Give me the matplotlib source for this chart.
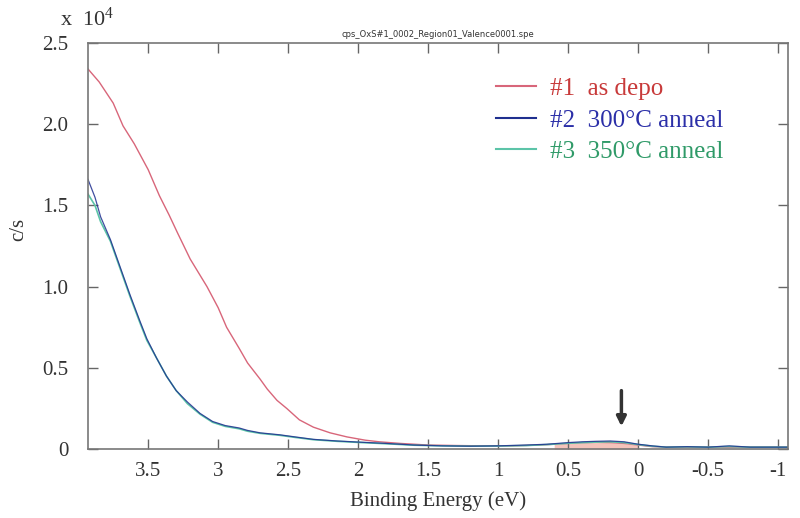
import matplotlib.pyplot as plt
from matplotlib.lines import Line2D

# binding energy (eV) / intensity (x10^4 c/s)
e_red = [3.93, 3.85, 3.75, 3.68, 3.60, 3.50, 3.42, 3.35, 3.29, 3.20, 3.08, 3.00, 2.94,
         2.85, 2.79, 2.70, 2.65, 2.58, 2.51, 2.42, 2.32, 2.20, 2.08, 1.95, 1.85, 1.70,
         1.50, 1.30, 1.10, 0.90, 0.70, 0.60, 0.50, 0.40, 0.30, 0.20, 0.10, 0.00, -0.10,
         -0.25, -0.45, -0.65, -0.85, -1.07]
i_red = [2.34, 2.26, 2.13, 1.99, 1.88, 1.72, 1.56, 1.44, 1.33, 1.17, 1.00, 0.87, 0.75,
         0.62, 0.53, 0.43, 0.37, 0.30, 0.25, 0.18, 0.135, 0.10, 0.075, 0.055, 0.045, 0.035,
         0.025, 0.022, 0.02, 0.02, 0.025, 0.03, 0.035, 0.04, 0.042, 0.04, 0.035, 0.025, 0.015,
         0.012, 0.012, 0.012, 0.012, 0.012]

e_blue = [3.93, 3.88, 3.84, 3.77, 3.70, 3.63, 3.56, 3.51, 3.44, 3.37, 3.30, 3.22, 3.13,
          3.04, 2.95, 2.85, 2.79, 2.70, 2.56, 2.45, 2.32, 2.15, 1.97, 1.80, 1.60, 1.40,
          1.20, 1.00, 0.80, 0.65, 0.50, 0.40, 0.30, 0.20, 0.10, 0.00, -0.10, -0.20, -0.35,
          -0.50, -0.65, -0.80, -1.07]
i_blue = [1.66, 1.55, 1.43, 1.29, 1.12, 0.95, 0.79, 0.68, 0.56, 0.45, 0.36, 0.29, 0.22,
          0.17, 0.145, 0.13, 0.115, 0.10, 0.088, 0.075, 0.06, 0.05, 0.042, 0.035, 0.025, 0.02,
          0.018, 0.02, 0.025, 0.03, 0.04, 0.045, 0.048, 0.05, 0.045, 0.03, 0.02, 0.012, 0.015,
          0.012, 0.02, 0.012, 0.012]

e_green = [3.93, 3.88, 3.84, 3.77, 3.70, 3.63, 3.56, 3.51, 3.44, 3.37, 3.30, 3.22, 3.13,
           3.04, 2.95, 2.85, 2.79, 2.70, 2.56, 2.45, 2.32, 2.15, 1.97, 1.80, 1.60, 1.40,
           1.20, 1.00, 0.80, 0.65, 0.50, 0.40, 0.30, 0.20, 0.10, 0.00, -0.10, -0.20, -0.35,
           -0.50, -0.65, -0.80, -1.07]
i_green = [1.57, 1.50, 1.40, 1.28, 1.11, 0.94, 0.78, 0.67, 0.56, 0.45, 0.36, 0.28, 0.215,
           0.165, 0.14, 0.125, 0.11, 0.097, 0.085, 0.072, 0.058, 0.048, 0.04, 0.033, 0.024, 0.02,
           0.018, 0.019, 0.022, 0.028, 0.036, 0.04, 0.043, 0.045, 0.04, 0.028, 0.018, 0.012, 0.014,
           0.012, 0.016, 0.012, 0.012]

labels = ["#1  as depo", "#2  300\u00b0C anneal", "#3  350\u00b0C anneal"]
line_colors = ["#d8667a", "#1f2f8f", "#5cc4a8"]
text_colors = ["#c83a3a", "#2b2fa8", "#2f9a68"]

xticks = [3.5, 3, 2.5, 2, 1.5, 1, 0.5, 0, -0.5, -1]
xticklabels = ["3.5", "3", "2.5", "2", "1.5", "1", "0.5", "0", "-0.5", "-1"]
yticks = [0, 0.5, 1.0, 1.5, 2.0, 2.5]
yticklabels = ["0", "0.5", "1.0", "1.5", "2.0", "2.5"]

plt.rcParams['font.family'] = ['Liberation Serif', 'DejaVu Serif']

fig = plt.figure(figsize=(8, 5.18), dpi=100)
ax = fig.add_axes([0.11, 0.133, 0.875, 0.784])

ax.plot(e_red, i_red, color=line_colors[0], lw=1.0)
ax.plot(e_green, i_green, color=line_colors[2], lw=1.2)
ax.plot(e_blue, i_blue, color=line_colors[1], lw=0.9, alpha=0.85)

# pale shading under the small bump near the Fermi level
bump = [(e, i) for e, i in zip(e_red, i_red) if -0.02 <= e <= 0.65]
ax.fill_between([b[0] for b in bump], 0, [b[1] for b in bump], color="#f2b5aa", alpha=0.8, lw=0)

ax.set_xlim(3.93, -1.07)
ax.set_ylim(0, 2.5)
ax.set_xticks(xticks)
ax.set_xticklabels(xticklabels)
ax.set_yticks(yticks)
ax.set_yticklabels(yticklabels)
ax.tick_params(direction='in', length=7, width=1, color="#666666", top=True, right=True,
               labelsize=15, labelcolor="#333333")
ax.tick_params(axis='y', pad=14)
ax.tick_params(axis='x', pad=9)
for s in ax.spines.values():
    s.set_color("#777777")
    s.set_linewidth(1.2)

ax.set_xlabel("Binding Energy (eV)", fontsize=15, color="#333333", labelpad=8)
ax.set_ylabel("c/s", fontsize=15, color="#333333")
ax.yaxis.set_label_coords(-0.085, 0.54)
ax.set_title("cps_OxS#1_0002_Region01_Valence0001.spe", fontsize=6, family="DejaVu Sans",
             color="#333333", pad=4)
fig.text(0.075, 0.95, r"x  $\mathregular{10^4}$", fontsize=16, color="#333333")

# arrow marking the gap state
ax.annotate("", xy=(0.12, 0.14), xytext=(0.12, 0.36),
            arrowprops=dict(arrowstyle="-|>", color="#333333", lw=2.5, mutation_scale=14,
                            shrinkA=0, shrinkB=0))

handles = [Line2D([], [], color=c, lw=1.5) for c in line_colors]
leg = ax.legend(handles, labels, loc="upper left", bbox_to_anchor=(0.55, 0.97), frameon=False,
                fontsize=18, handlelength=1.6, handletextpad=0.6, labelspacing=0.36)
for t, c in zip(leg.get_texts(), text_colors):
    t.set_color(c)

fig.savefig("out.png", dpi=100)
